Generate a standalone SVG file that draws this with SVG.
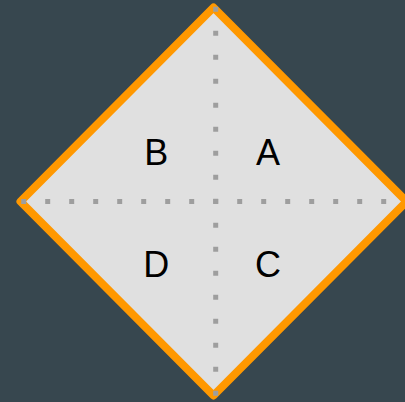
<svg xmlns="http://www.w3.org/2000/svg" width="405" height="402" viewBox="0 0 405 402">
  <style>
    .bg { fill: #37474F; }
    .diamond { fill: #E0E0E0; stroke: #FF9800; stroke-width: 8; stroke-linejoin: round; }
    .axis { stroke: #9E9E9E; stroke-width: 5; stroke-dasharray: 5 19; fill: none; }
    .lbl { font-family: "Liberation Sans", Arial, sans-serif; font-size: 36px; fill: #000000; text-anchor: middle; }
  </style>
  <rect class="bg" x="0" y="0" width="405" height="402"/>
  <g id="diamond">
    <polygon class="diamond" points="213.5,7.5 20.5,201.5 213.5,395.5 406.5,201.5"/>
  </g>
  <g id="axes">
    <line class="axis" x1="21.2" y1="201.5" x2="407" y2="201.5"/>
    <line class="axis" x1="215.7" y1="6.8" x2="215.7" y2="396"/>
  </g>
  <g id="labels">
    <text class="lbl" x="156.3" y="165.3">B</text>
    <text class="lbl" x="268" y="165.3">A</text>
    <text class="lbl" x="156.3" y="277">D</text>
    <text class="lbl" x="268" y="277">C</text>
  </g>
</svg>
